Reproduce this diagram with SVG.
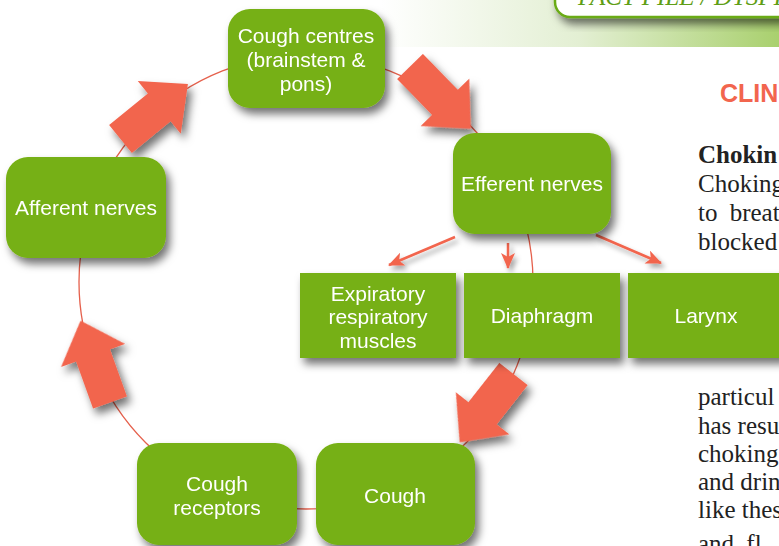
<svg xmlns="http://www.w3.org/2000/svg" width="779" height="546" viewBox="0 0 779 546">
<defs>
<style>
.node{fill:#76B012}
.lbl{font-family:"Liberation Sans",Arial,sans-serif;font-size:21px;fill:#fff;text-anchor:middle}
.body{font-family:"Liberation Serif","Times New Roman",serif;font-size:25px;fill:#222}
.big{fill:#F2654E}
.thin{fill:none;stroke:#F2654E;stroke-width:2.5}
</style>
<linearGradient id="band" x1="0" y1="0" x2="1" y2="0">
<stop offset="0" stop-color="#ffffff"/>
<stop offset="0.5" stop-color="#e3efd3"/>
<stop offset="1" stop-color="#a9d06e"/>
</linearGradient>
<filter id="sh" x="-30%" y="-30%" width="160%" height="170%">
<feDropShadow dx="4" dy="6" stdDeviation="4" flood-color="#000" flood-opacity="0.55"/>
</filter>
<filter id="sh2" x="-30%" y="-30%" width="160%" height="170%">
<feDropShadow dx="3" dy="4" stdDeviation="2.5" flood-color="#000" flood-opacity="0.35"/>
</filter>
<path id="bigArrow" d="M0,-18 L50,-18 L50,-34 L87,0 L50,34 L50,18 L0,18 Z"/>
<marker id="ah" viewBox="0 0 16 14" refX="15" refY="7" markerWidth="16" markerHeight="14" markerUnits="userSpaceOnUse" orient="auto">
<path d="M0,0 L16,7 L0,14 L4,7 Z" fill="#F2654E"/>
</marker>
</defs>

<g id="page">
<rect x="380" y="0" width="399" height="47" fill="url(#band)"/>
<rect x="555" y="-20" width="240" height="37" rx="15" fill="#fff" stroke="#6aab18" stroke-width="2.5" filter="url(#sh)"/>
<text x="578" y="5" font-family="Liberation Serif,serif" font-style="italic" font-size="25" fill="#5f9e16">FACT FILE / DYSPHAGIA</text>
<text x="720" y="102" font-family="Liberation Sans,Arial,sans-serif" font-weight="bold" font-size="25" fill="#F2654E">CLIN</text>
<text class="body" x="698" y="163" font-weight="bold">Chokin</text>
<text class="body" x="698" y="192">Choking</text>
<text class="body" x="698" y="221" word-spacing="6">to breat</text>
<text class="body" x="698" y="250">blocked</text>
<text class="body" x="698" y="405">particul</text>
<text class="body" x="698" y="434">has resu</text>
<text class="body" x="698" y="462">choking</text>
<text class="body" x="698" y="490">and drin</text>
<text class="body" x="698" y="518">like thes</text>
<text class="body" x="698" y="552" word-spacing="6">and fl</text>
</g>

<g id="connectors">
<circle cx="306" cy="282" r="227" fill="none" stroke="#E5604C" stroke-width="1.3"/>
<g filter="url(#sh)">
<use href="#bigArrow" class="big" transform="translate(120.5,139) rotate(-39.2)"/>
<use href="#bigArrow" class="big" transform="translate(410,66.5) rotate(45.7)"/>
<use href="#bigArrow" class="big" transform="translate(513.5,374) rotate(128.2)"/>
<use href="#bigArrow" class="big" transform="translate(110,402.5) rotate(-109.8)"/>
</g>
<g filter="url(#sh2)">
<line class="thin" x1="455" y1="237" x2="389" y2="265" marker-end="url(#ah)"/>
<line class="thin" x1="508" y1="243" x2="508" y2="268" marker-end="url(#ah)"/>
<line class="thin" x1="596" y1="235" x2="661" y2="263" marker-end="url(#ah)"/>
</g>
</g>

<g id="cough-centres" filter="url(#sh)">
<rect class="node" x="228" y="9" width="157" height="99" rx="22"/>
<text class="lbl" x="306" y="43">Cough centres</text>
<text class="lbl" x="306" y="67">(brainstem &amp;</text>
<text class="lbl" x="306" y="91">pons)</text>
</g>
<g id="efferent-nerves" filter="url(#sh)">
<rect class="node" x="453" y="133" width="158" height="101" rx="22"/>
<text class="lbl" x="532" y="191">Efferent nerves</text>
</g>
<g id="afferent-nerves" filter="url(#sh)">
<rect class="node" x="6" y="157" width="160" height="101" rx="22"/>
<text class="lbl" x="86" y="215">Afferent nerves</text>
</g>
<g id="cough-receptors" filter="url(#sh)">
<rect class="node" x="137" y="443" width="160" height="102" rx="22"/>
<text class="lbl" x="217" y="491">Cough</text>
<text class="lbl" x="217" y="515">receptors</text>
</g>
<g id="cough" filter="url(#sh)">
<rect class="node" x="316" y="443" width="159" height="102" rx="22"/>
<text class="lbl" x="395" y="503">Cough</text>
</g>
<g id="expiratory-muscles" filter="url(#sh)">
<rect class="node" x="300" y="273" width="156" height="85"/>
<text class="lbl" x="378" y="301">Expiratory</text>
<text class="lbl" x="378" y="324">respiratory</text>
<text class="lbl" x="378" y="348">muscles</text>
</g>
<g id="diaphragm" filter="url(#sh)">
<rect class="node" x="464" y="273" width="156" height="85"/>
<text class="lbl" x="542" y="323">Diaphragm</text>
</g>
<g id="larynx" filter="url(#sh)">
<rect class="node" x="628" y="273" width="156" height="85"/>
<text class="lbl" x="706" y="323">Larynx</text>
</g>
</svg>
